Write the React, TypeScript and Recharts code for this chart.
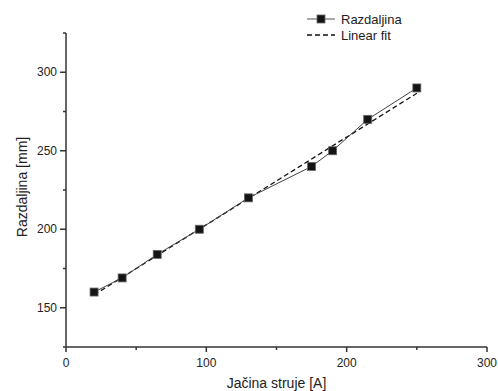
import React from "react";
import { ComposedChart, Line, XAxis, YAxis } from "recharts";

const currentA = [20, 40, 65, 95, 130, 175, 190, 215, 250];
const distanceMm = [160, 169, 184, 200, 220, 240, 250, 270, 290];
const fitX = [20, 250];
const fitY = [158.2, 286.6];

const xTicks = [0, 50, 100, 150, 200, 250, 300];
const xLabeled = [0, 100, 200, 300];
const yTicks = [125, 150, 175, 200, 225, 250, 275, 300, 325];
const yLabeled = [150, 200, 250, 300];

const seriesNames = ["Razdaljina", "Linear fit"];

const measured = currentA.map((x, i) => ({ x, y: distanceMm[i] }));
const fit = fitX.map((x, i) => ({ x, y: fitY[i] }));

const FONT = "'Liberation Sans', Arial, sans-serif";
const AXIS = "#333";

const XTick = (props: any) => {
  const { x, y, payload } = props;
  const major = xLabeled.includes(payload.value);
  return (
    <g>
      <line x1={x} x2={x} y1={y} y2={y + (major ? 5 : 3)} stroke={AXIS} strokeWidth={1.5} />
      {major && (
        <text x={x} y={y + 20} textAnchor="middle" fontSize={12} fontFamily={FONT} fill="#222">
          {payload.value}
        </text>
      )}
    </g>
  );
};

const YTick = (props: any) => {
  const { x, y, payload } = props;
  const major = yLabeled.includes(payload.value);
  return (
    <g>
      <line x1={x} x2={x - (major ? 6 : 3)} y1={y} y2={y} stroke={AXIS} strokeWidth={1.5} />
      {major && (
        <text x={x - 9} y={y + 4} textAnchor="end" fontSize={12} fontFamily={FONT} fill="#222">
          {payload.value}
        </text>
      )}
    </g>
  );
};

const SquareDot = (props: any) => {
  const { cx, cy } = props;
  if (cx == null || cy == null) return null;
  return <rect x={cx - 4} y={cy - 4} width={8} height={8} fill="#141414" stroke="#666" strokeWidth={0.8} />;
};

const LegendBox = () => (
  <svg width={140} height={40} style={{ position: "absolute", left: 307, top: 7, overflow: "visible" }}>
    <line x1={0} x2={28} y1={12} y2={12} stroke="#555" strokeWidth={1} />
    <rect x={10} y={8} width={8} height={8} fill="#141414" stroke="#666" strokeWidth={0.8} />
    <text x={34} y={16.5} fontSize={13} fontFamily={FONT} fill="#222">{seriesNames[0]}</text>
    <line x1={0} x2={28} y1={28} y2={28} stroke="#111" strokeWidth={1.3} strokeDasharray="5 3" />
    <text x={34} y={32.5} fontSize={13} fontFamily={FONT} fill="#222">{seriesNames[1]}</text>
  </svg>
);

export default function App() {
  return (
    <div style={{ position: "absolute", left: 0, top: 0, width: 498, height: 391, background: "#fff" }}>
      <ComposedChart width={498} height={391} margin={{ top: 33, right: 11, bottom: 0, left: 0 }}>
        <XAxis
          type="number"
          dataKey="x"
          domain={[0, 300]}
          ticks={xTicks}
          interval={0}
          tick={<XTick />}
          tickLine={false}
          tickSize={0}
          tickMargin={0}
          height={44}
          stroke={AXIS}
          strokeWidth={1.5}
          allowDataOverflow
          label={{ value: "Jačina struje [A]", position: "insideBottom", offset: 3, fontSize: 14, fontFamily: FONT, fill: "#222" }}
        />
        <YAxis
          type="number"
          dataKey="y"
          domain={[125, 325]}
          ticks={yTicks}
          interval={0}
          tick={<YTick />}
          tickLine={false}
          tickSize={0}
          tickMargin={0}
          width={66}
          stroke={AXIS}
          strokeWidth={1.5}
          allowDataOverflow
        />
        <Line
          data={fit}
          dataKey="y"
          name={seriesNames[1]}
          type="linear"
          stroke="#111"
          strokeWidth={1.3}
          strokeDasharray="5 3"
          dot={false}
          activeDot={false}
          isAnimationActive={false}
        />
        <Line
          data={measured}
          dataKey="y"
          name={seriesNames[0]}
          type="linear"
          stroke="#444"
          strokeWidth={1}
          dot={<SquareDot />}
          activeDot={false}
          isAnimationActive={false}
        />
        <text
          x={22}
          y={187}
          transform="rotate(-90 22 187)"
          textAnchor="middle"
          dominantBaseline="central"
          fontSize={14}
          fontFamily={FONT}
          fill="#222"
        >
          Razdaljina [mm]
        </text>
      </ComposedChart>
      <LegendBox />
    </div>
  );
}
